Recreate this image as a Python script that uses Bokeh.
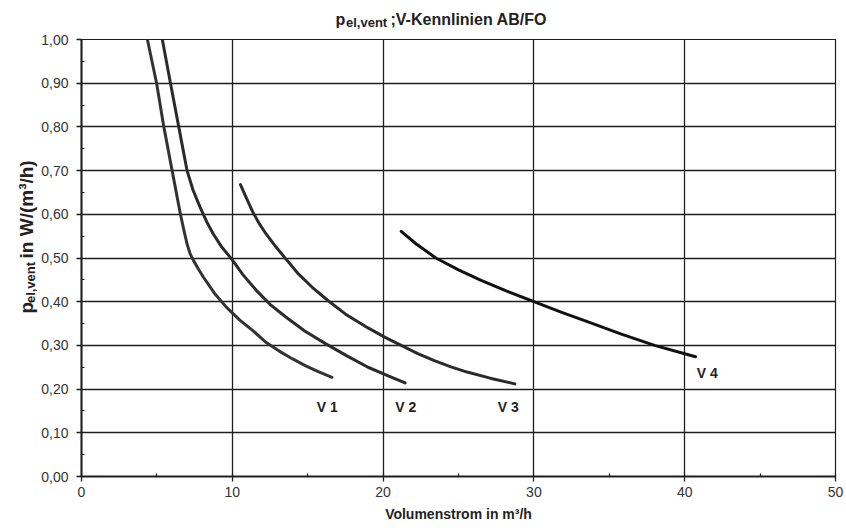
import math
from bokeh.plotting import figure
from bokeh.models import Range1d, SingleIntervalTicker, CustomJSTickFormatter, Label
from bokeh.layouts import column, row
from bokeh.embed import file_html
from bokeh.resources import INLINE

# ---- data ----
curve_names = ["V 1", "V 2", "V 3", "V 4"]

v1_x = [4.37, 4.98, 5.46, 6.01, 6.56, 6.80, 7.00, 7.20, 7.43, 7.75, 8.09, 8.80, 9.62,
        10.50, 11.36, 12.20, 13.11, 14.00, 14.87, 15.70, 16.61]
v1_y = [1.000, 0.900, 0.800, 0.700, 0.600, 0.562, 0.532, 0.510, 0.494, 0.475, 0.456, 0.420, 0.387,
        0.358, 0.334, 0.308, 0.287, 0.269, 0.253, 0.240, 0.227]

v2_x = [5.36, 5.90, 6.45, 7.00, 7.40, 7.87, 8.30, 8.74, 9.30, 9.95, 10.70, 11.59, 12.50,
        13.55, 14.80, 16.18, 17.60, 19.00, 20.30, 21.46]
v2_y = [1.000, 0.900, 0.800, 0.700, 0.655, 0.616, 0.583, 0.555, 0.525, 0.498, 0.462, 0.426, 0.394,
        0.365, 0.333, 0.304, 0.276, 0.250, 0.231, 0.214]

v3_x = [10.54, 10.90, 11.36, 11.80, 12.24, 12.90, 13.55, 14.40, 15.30, 16.40, 17.49, 19.00,
        20.10, 21.20, 22.30, 23.40, 24.50, 25.57, 27.10, 28.74]
v3_y = [0.668, 0.640, 0.605, 0.578, 0.555, 0.525, 0.498, 0.463, 0.433, 0.401, 0.372, 0.340,
        0.319, 0.300, 0.281, 0.265, 0.251, 0.239, 0.225, 0.212]

v4_x = [21.20, 22.20, 23.50, 25.00, 26.50, 28.20, 30.00, 31.80, 33.50, 35.80, 38.00, 40.00, 40.72]
v4_y = [0.561, 0.532, 0.500, 0.473, 0.449, 0.424, 0.400, 0.376, 0.355, 0.326, 0.300, 0.281, 0.274]

x_start, x_end, x_step = 0, 50, 10
y_start, y_end, y_step = 0.0, 1.0, 0.1

title_main = ";V-Kennlinien AB/FO"
sym_p = "p"
sym_sub = "el,vent"
ylabel_main = "in W/(m³/h)"
xlabel_text = "Volumenstrom in m³/h"

FONT = "Liberation Sans"
INK = "#1e1e1e"
TXT = "#222222"

W, H = 846, 528
TITLE_H = 29
YLAB_W = 38


def blank_fig(w, h):
    f = figure(width=w, height=h, output_backend="svg", toolbar_location=None,
               x_range=Range1d(0, w), y_range=Range1d(0, h),
               x_axis_type=None, y_axis_type=None, min_border=0,
               background_fill_color="white", border_fill_color="white")
    f.outline_line_color = None
    f.xgrid.visible = False
    f.ygrid.visible = False
    return f


def piece(f, text, x, y, size, angle=0.0):
    f.add_layout(Label(x=x, y=y, text=text, text_font=FONT, text_font_size=size,
                       text_font_style="bold", text_color=TXT, text_align="left",
                       text_baseline="alphabetic", angle=angle))


# ---- title (with subscript) ----
tf = blank_fig(W, TITLE_H)
piece(tf, sym_p, 335, 10.5, "16px")
piece(tf, sym_sub, 345.5, 7, "13px")
piece(tf, title_main, 390, 10.5, "16px")

# ---- rotated y-axis label (with subscript) ----
plot_h = H - TITLE_H
yf = blank_fig(YLAB_W, plot_h)
ybase = 186
piece(yf, sym_p, 26, ybase, "19px", angle=math.pi / 2)
piece(yf, sym_sub, 29.5, ybase + 12, "13px", angle=math.pi / 2)
piece(yf, ylabel_main, 26, ybase + 63, "19px", angle=math.pi / 2)

# ---- main chart ----
p = figure(width=W - YLAB_W, height=plot_h, output_backend="svg", toolbar_location=None,
           x_range=Range1d(x_start, x_end), y_range=Range1d(y_start, y_end),
           min_border_left=42, min_border_right=11, min_border_top=10, min_border_bottom=52,
           background_fill_color="white", border_fill_color="white")

p.outline_line_color = INK
p.outline_line_width = 1.2

p.xaxis.ticker = SingleIntervalTicker(interval=x_step, num_minor_ticks=2)
p.yaxis.ticker = SingleIntervalTicker(interval=y_step, num_minor_ticks=2)
p.yaxis.formatter = CustomJSTickFormatter(code="return tick.toFixed(2).replace('.', ',');")
p.xaxis.formatter = CustomJSTickFormatter(code="return Math.round(tick).toString();")
for ax in (p.xaxis, p.yaxis):
    ax.axis_line_color = INK
    ax.axis_line_width = 2
    ax.major_tick_line_color = INK
    ax.major_tick_line_width = 1.3
    ax.minor_tick_line_color = INK
    ax.minor_tick_line_width = 1.2
    ax.major_tick_in = 0
    ax.major_tick_out = 5
    ax.minor_tick_in = 3
    ax.minor_tick_out = 0
    ax.major_label_text_font = FONT
    ax.major_label_text_font_size = "14px"
    ax.major_label_text_color = "#333333"
p.yaxis.major_label_standoff = 8
p.xaxis.major_label_standoff = 5

p.xaxis.axis_label = xlabel_text
p.xaxis.axis_label_text_font = FONT
p.xaxis.axis_label_text_font_size = "14px"
p.xaxis.axis_label_text_font_style = "bold"
p.xaxis.axis_label_text_color = TXT
p.xaxis.axis_label_standoff = 6

p.xgrid.grid_line_color = INK
p.xgrid.grid_line_width = 1.3
p.ygrid.grid_line_color = INK
p.ygrid.grid_line_width = 1.3

for xs, ys, col in ((v1_x, v1_y, "#333333"), (v2_x, v2_y, "#2b2b2b"),
                    (v3_x, v3_y, "#2b2b2b"), (v4_x, v4_y, "#111111")):
    p.line(xs, ys, line_color=col, line_width=3, line_join="round", line_cap="round")

label_pos = [(16.3, 0.158), (21.5, 0.158), (28.3, 0.158), (41.5, 0.236)]
for name, (lx, ly) in zip(curve_names, label_pos):
    p.add_layout(Label(x=lx, y=ly, text=name, text_font=FONT, text_font_size="14px",
                       text_font_style="bold", text_color=TXT,
                       text_align="center", text_baseline="middle"))

layout = column(tf, row(yf, p, spacing=0), spacing=0)

open("out.html", "w").write(file_html(layout, INLINE))
